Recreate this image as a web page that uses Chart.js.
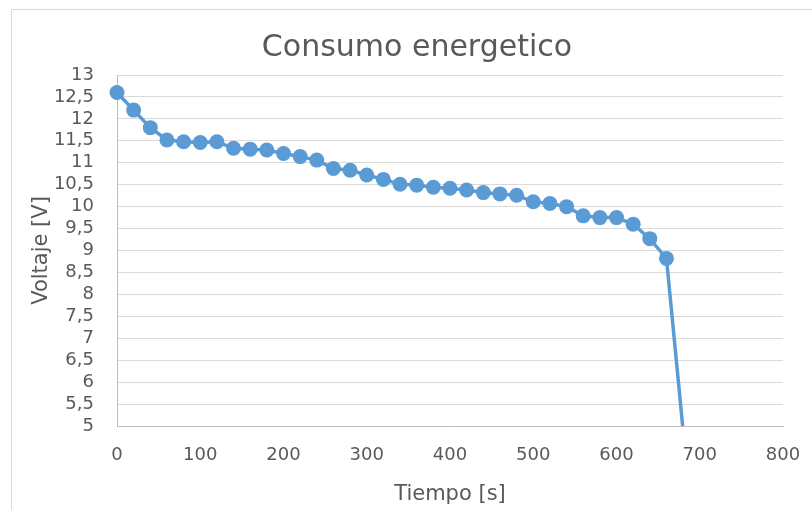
<!DOCTYPE html>
<html>
<head>
<meta charset="utf-8">
<script src="https://cdn.jsdelivr.net/npm/chart.js@4/dist/chart.umd.min.js"></script>
<style>
    html, body { margin: 0; padding: 0; background: #fff; overflow: hidden; }
    #wrap { position: relative; width: 812px; height: 510px; }
    #marco { position: absolute; left: 11px; top: 9px; width: 820px; height: 520px; border: 1px solid #d9d9d9; box-sizing: border-box; pointer-events: none; }
    canvas { position: absolute; left: 0; top: 0; }
</style>
</head>
<body>
<div id="wrap">
    <canvas id="consumoChart" width="812" height="510"></canvas>
    <div id="marco"></div>
</div>
<script>
// Tiempo en segundos
const tiempo = [0, 20, 40, 60, 80, 100, 120, 140, 160, 180, 200, 220, 240, 260, 280, 300, 320, 340,
                360, 380, 400, 420, 440, 460, 480, 500, 520, 540, 560, 580, 600, 620, 640, 660, 680];

// Voltaje medido en V
const voltaje = [12.6, 12.2, 11.8, 11.52, 11.48, 11.46, 11.48, 11.33, 11.31, 11.29, 11.21, 11.14, 11.06, 10.87, 10.83, 10.72, 10.62, 10.51,
                 10.49, 10.44, 10.42, 10.38, 10.32, 10.29, 10.26, 10.11, 10.07, 10.0, 9.79, 9.75, 9.75, 9.6, 9.27, 8.82, 4.9];

const ejeX = { min: 0, max: 800, paso: 100 };
const ejeY = { min: 5, max: 13, paso: 0.5 };

const titulo = 'Consumo energetico';
const gris = '#595959';
const fuente = 'DejaVu Sans';

// Título centrado sobre todo el marco del gráfico
const tituloCentrado = {
    id: 'tituloCentrado',
    afterDraw(chart) {
        const ctx = chart.ctx;
        ctx.save();
        ctx.fillStyle = gris;
        ctx.font = '30px "' + fuente + '"';
        ctx.textAlign = 'center';
        ctx.textBaseline = 'middle';
        ctx.fillText(titulo, 417, 48);
        ctx.restore();
    }
};

new Chart(document.getElementById('consumoChart'), {
    type: 'scatter',
    data: {
        datasets: [{
            data: tiempo.map((t, i) => ({ x: t, y: voltaje[i] })),
            showLine: true,
            borderColor: '#5b9bd5',
            backgroundColor: '#5b9bd5',
            borderWidth: 3.5,
            tension: 0,
            // sin marcador para puntos fuera del eje
            pointRadius: ctx => (ctx.raw && ctx.raw.y < ejeY.min) ? 0 : 7.5,
            pointBorderWidth: 0,
            clip: { left: 12, top: 12, right: 12, bottom: 0 }
        }]
    },
    options: {
        responsive: false,
        animation: false,
        events: [],
        layout: { padding: { left: 0, right: 29, top: 75, bottom: 0 } },
        plugins: {
            legend: { display: false },
            tooltip: { enabled: false },
            title: { display: false }
        },
        scales: {
            x: {
                type: 'linear',
                min: ejeX.min,
                max: ejeX.max,
                ticks: { stepSize: ejeX.paso, color: gris, padding: 19, font: { family: fuente, size: 18 } },
                grid: { display: false, drawTicks: false },
                border: { display: true, color: '#bfbfbf', width: 1 },
                title: { display: true, text: 'Tiempo [s]', color: gris, font: { family: fuente, size: 21 }, padding: { top: 0, bottom: 3 } },
                afterFit: scale => {
                    scale.height = 84;
                    scale.paddingLeft = 0;
                    scale.paddingRight = 0;
                }
            },
            y: {
                type: 'linear',
                min: ejeY.min,
                max: ejeY.max,
                ticks: {
                    stepSize: ejeY.paso,
                    autoSkip: false,
                    color: gris,
                    padding: 23,
                    font: { family: fuente, size: 18 },
                    callback: v => String(v).replace('.', ',')
                },
                grid: { color: '#d9d9d9', lineWidth: 1, drawTicks: false },
                border: { display: true, color: '#bfbfbf', width: 1 },
                title: { display: true, text: 'Voltaje [V]', color: gris, font: { family: fuente, size: 21 }, padding: { top: 29, bottom: 0 } },
                afterFit: scale => { scale.width = 117; }
            }
        }
    },
    plugins: [tituloCentrado]
});
</script>
</body>
</html>
